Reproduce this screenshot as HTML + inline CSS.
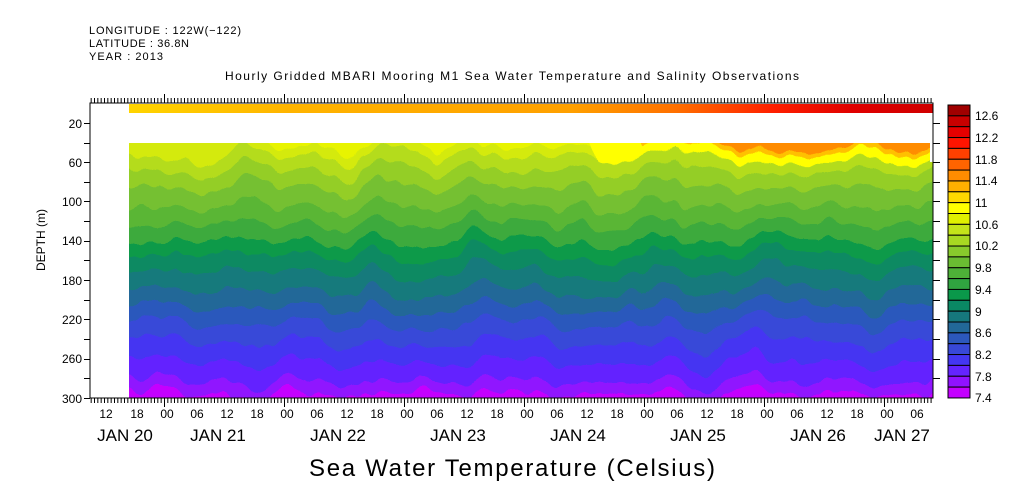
<!DOCTYPE html>
<html><head><meta charset="utf-8"><style>
html,body{margin:0;padding:0;background:#fff;}
svg{display:block;font-family:"Liberation Sans",sans-serif;}
</style></head><body>
<svg width="1009" height="504" viewBox="0 0 1009 504" xmlns="http://www.w3.org/2000/svg">
<defs>
<filter id="wob" filterUnits="userSpaceOnUse" x="60" y="100" width="940" height="340">
<feTurbulence type="fractalNoise" baseFrequency="0.022 0.005" numOctaves="3" seed="7" result="n"/>
<feDisplacementMap in="SourceGraphic" in2="n" scale="44" xChannelSelector="R" yChannelSelector="G"/>
</filter>
<clipPath id="dc"><rect x="129" y="143" width="804" height="255"/></clipPath>
<linearGradient id="top" x1="129" x2="933" y1="0" y2="0" gradientUnits="userSpaceOnUse">
<stop offset="0" stop-color="#ffd400"/><stop offset="0.2" stop-color="#ffb400"/>
<stop offset="0.55" stop-color="#ffa000"/><stop offset="0.68" stop-color="#ff7000"/>
<stop offset="0.8" stop-color="#ff2000"/><stop offset="0.9" stop-color="#e00000"/><stop offset="1" stop-color="#d00000"/>
</linearGradient>
</defs>
<g font-size="11" fill="#000">
<text x="89" y="34" textLength="152">LONGITUDE : 122W(−122)</text>
<text x="89" y="47" textLength="100">LATITUDE : 36.8N</text>
<text x="89" y="60" textLength="74">YEAR : 2013</text>
<text x="512" y="80" text-anchor="middle" font-size="12" textLength="574">Hourly Gridded MBARI Mooring M1 Sea Water Temperature and Salinity Observations</text>
</g>
<rect x="129" y="104" width="804" height="9" fill="url(#top)"/>
<g clip-path="url(#dc)"><g filter="url(#wob)">
<rect x="80" y="110" width="900" height="47" fill="#d4ea10"/>
<rect x="80" y="157" width="900" height="14" fill="#b4dc1e"/>
<rect x="80" y="171" width="900" height="16" fill="#94ce28"/>
<rect x="80" y="187" width="900" height="19" fill="#74c030"/>
<rect x="80" y="206" width="900" height="17" fill="#5ab634"/>
<rect x="80" y="223" width="900" height="17" fill="#3eaa3c"/>
<rect x="80" y="240" width="900" height="14" fill="#109a48"/>
<rect x="80" y="254" width="900" height="17" fill="#0a8a62"/>
<rect x="80" y="271" width="900" height="19" fill="#167a7c"/>
<rect x="80" y="290" width="900" height="17" fill="#226898"/>
<rect x="80" y="307" width="900" height="17" fill="#2c58bc"/>
<rect x="80" y="324" width="900" height="19" fill="#3848d8"/>
<rect x="80" y="343" width="900" height="20" fill="#4436f2"/>
<rect x="80" y="363" width="900" height="19" fill="#6424ff"/>
<rect x="80" y="382" width="900" height="12" fill="#9012ff"/>
<rect x="80" y="394" width="900" height="40" fill="#c400ff"/>
<rect x="240" y="110" width="740" height="38" fill="#e8f400"/>
<polygon points="560,110 980,110 980,162 600,158" fill="#ffff00"/>
<polygon points="615,110 980,110 980,153 640,150" fill="#ffc000"/>
<polygon points="700,110 980,110 980,148 720,146" fill="#ff8c00"/>
</g></g>
<rect x="930" y="143" width="4" height="19" fill="#fff"/>
<rect x="90" y="103" width="843" height="295" fill="none" stroke="#000" stroke-width="1"/>
<line x1="90" x2="933" y1="400.5" y2="400.5" stroke="#000" stroke-width="5" stroke-dasharray="1 2.333" stroke-dashoffset="2.667"/>
<line x1="90" x2="933" y1="100.5" y2="100.5" stroke="#000" stroke-width="5" stroke-dasharray="1 2.333" stroke-dashoffset="2.667"/>
<path d="M164.5 398v9M284.5 398v9M404.5 398v9M524.5 398v9M644.5 398v9M764.5 398v9M884.5 398v9M164.5 103v-9M284.5 103v-9M404.5 103v-9M524.5 103v-9M644.5 103v-9M764.5 103v-9M884.5 103v-9" stroke="#000"/>
<path d="M84 123.5h6M84 143.5h6M84 162.5h6M84 182.5h6M84 201.5h6M84 221.5h6M84 241.5h6M84 260.5h6M84 280.5h6M84 300.5h6M84 319.5h6M84 339.5h6M84 359.5h6M84 378.5h6M84 398.5h6M933 123.5h7M933 143.5h7M933 162.5h7M933 182.5h7M933 201.5h7M933 221.5h7M933 241.5h7M933 260.5h7M933 280.5h7M933 300.5h7M933 319.5h7M933 339.5h7M933 359.5h7M933 378.5h7" stroke="#000"/>
<g font-size="12" text-anchor="end">
<text x="82" y="128">20</text><text x="82" y="167">60</text><text x="82" y="206">100</text><text x="82" y="245">140</text>
<text x="82" y="285">180</text><text x="82" y="324">220</text><text x="82" y="363">260</text><text x="82" y="403">300</text>
</g>
<text transform="translate(45,240) rotate(-90)" font-size="12" text-anchor="middle">DEPTH (m)</text>
<g font-size="12" text-anchor="middle">
<text x="106" y="418">12</text><text x="137" y="418">18</text><text x="167" y="418">00</text><text x="197" y="418">06</text>
<text x="227" y="418">12</text><text x="257" y="418">18</text><text x="287" y="418">00</text><text x="317" y="418">06</text>
<text x="347" y="418">12</text><text x="377" y="418">18</text><text x="407" y="418">00</text><text x="437" y="418">06</text>
<text x="467" y="418">12</text><text x="497" y="418">18</text><text x="527" y="418">00</text><text x="557" y="418">06</text>
<text x="587" y="418">12</text><text x="617" y="418">18</text><text x="647" y="418">00</text><text x="677" y="418">06</text>
<text x="707" y="418">12</text><text x="737" y="418">18</text><text x="767" y="418">00</text><text x="797" y="418">06</text>
<text x="827" y="418">12</text><text x="857" y="418">18</text><text x="887" y="418">00</text><text x="917" y="418">06</text>
</g>
<g font-size="17" text-anchor="middle">
<text x="125" y="441">JAN 20</text><text x="218" y="441">JAN 21</text><text x="338" y="441">JAN 22</text><text x="458" y="441">JAN 23</text>
<text x="578" y="441">JAN 24</text><text x="698" y="441">JAN 25</text><text x="818" y="441">JAN 26</text><text x="902" y="441">JAN 27</text>
</g>
<text x="512" y="476" font-size="24" text-anchor="middle" textLength="406">Sea Water Temperature (Celsius)</text>
<g stroke="#000" stroke-width="1">
<rect x="948" y="105" width="22" height="10.85" fill="#a00000"/>
<rect x="948" y="115.85" width="22" height="10.85" fill="#c80000"/>
<rect x="948" y="126.7" width="22" height="10.85" fill="#e60000"/>
<rect x="948" y="137.55" width="22" height="10.85" fill="#ff1400"/>
<rect x="948" y="148.4" width="22" height="10.85" fill="#ff4000"/>
<rect x="948" y="159.25" width="22" height="10.85" fill="#ff6400"/>
<rect x="948" y="170.1" width="22" height="10.85" fill="#ff8c00"/>
<rect x="948" y="180.95" width="22" height="10.85" fill="#ffb000"/>
<rect x="948" y="191.8" width="22" height="10.85" fill="#ffd800"/>
<rect x="948" y="202.65" width="22" height="10.85" fill="#ffff00"/>
<rect x="948" y="213.5" width="22" height="10.85" fill="#e0f000"/>
<rect x="948" y="224.35" width="22" height="10.85" fill="#c4e41a"/>
<rect x="948" y="235.2" width="22" height="10.85" fill="#a8d822"/>
<rect x="948" y="246.05" width="22" height="10.85" fill="#88ca2c"/>
<rect x="948" y="256.9" width="22" height="10.85" fill="#6abc32"/>
<rect x="948" y="267.75" width="22" height="10.85" fill="#4eb038"/>
<rect x="948" y="278.6" width="22" height="10.85" fill="#30a440"/>
<rect x="948" y="289.45" width="22" height="10.85" fill="#0a984a"/>
<rect x="948" y="300.3" width="22" height="10.85" fill="#0a8864"/>
<rect x="948" y="311.15" width="22" height="10.85" fill="#16787c"/>
<rect x="948" y="322" width="22" height="10.85" fill="#226898"/>
<rect x="948" y="332.85" width="22" height="10.85" fill="#2c58bc"/>
<rect x="948" y="343.7" width="22" height="10.85" fill="#3848d8"/>
<rect x="948" y="354.55" width="22" height="10.85" fill="#4436f2"/>
<rect x="948" y="365.4" width="22" height="10.85" fill="#6424ff"/>
<rect x="948" y="376.25" width="22" height="10.85" fill="#9012ff"/>
<rect x="948" y="387.1" width="22" height="10.85" fill="#c400ff"/>
</g>
<g font-size="12">
<text x="975" y="120">12.6</text><text x="975" y="142">12.2</text><text x="975" y="164">11.8</text><text x="975" y="185">11.4</text>
<text x="975" y="207">11</text><text x="975" y="229">10.6</text><text x="975" y="250">10.2</text><text x="975" y="272">9.8</text>
<text x="975" y="294">9.4</text><text x="975" y="316">9</text><text x="975" y="337">8.6</text><text x="975" y="359">8.2</text>
<text x="975" y="381">7.8</text><text x="975" y="402">7.4</text>
</g>
</svg>
</body></html>
